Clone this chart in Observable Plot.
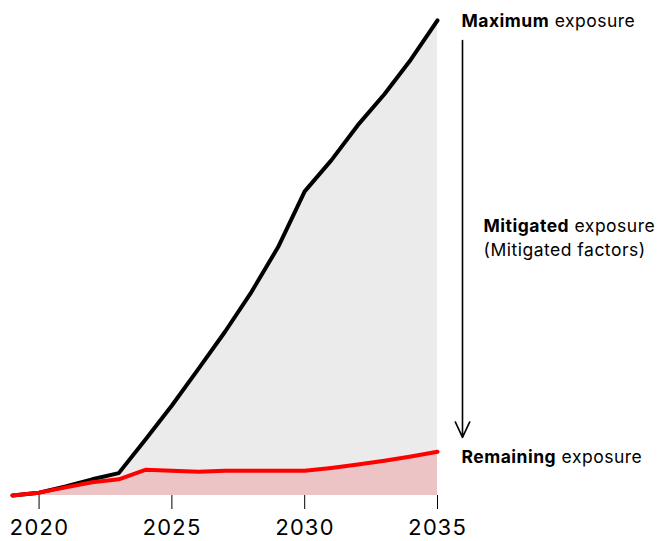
<!DOCTYPE html>
<html>
<head>
<meta charset="utf-8">
<script src="https://cdn.jsdelivr.net/npm/d3@7"></script>
<script src="https://cdn.jsdelivr.net/npm/@observablehq/plot@0.6"></script>
<style>
  body { margin: 0; background: #fff; }
  svg { font-family: Inter, "Liberation Sans", sans-serif; }
  g.lbl text { letter-spacing: 0.5px; }
  g.xax text { letter-spacing: 0.6px; }
</style>
</head>
<body>
<div id="chart"></div>
<script>
const years = [2019,2020,2021,2022,2023,2024,2025,2026,2027,2028,2029,2030,2031,2032,2033,2034,2035];
const maximum = [0,0.6,1.9,3.4,4.7,11.7,18.9,26.6,34.4,42.8,52.2,63.9,70.4,77.8,84.3,91.6,99.8];
const remaining = [0,0.6,1.7,2.8,3.4,5.4,5.2,5.0,5.2,5.2,5.2,5.2,5.8,6.5,7.3,8.2,9.2];
const xTicks = [2020,2025,2030,2035];
const labels = [
  {bold: "Maximum", rest: " exposure", y: 99.6, dx: 24},
  {bold: "Mitigated", rest: " exposure", y: 56.6, dx: 46},
  {bold: "", rest: "(Mitigated factors)", y: 51.4, dx: 46},
  {bold: "Remaining", rest: " exposure", y: 8.0, dx: 24}
];
const arrowFrom = 95.6, arrowTo = 12.2;

const data = years.map((year, i) => ({year, max: maximum[i], rem: remaining[i]}));

const chart = Plot.plot({
  width: 660,
  height: 541,
  marginLeft: 12,
  marginRight: 223,
  marginTop: 19,
  marginBottom: 46,
  x: {domain: [2019, 2035], label: null},
  y: {domain: [0, 100], axis: null},
  style: {fontFamily: "Inter, 'Liberation Sans', sans-serif", background: "#fff"},
  marks: [
    Plot.areaY(data, {x: "year", y1: "rem", y2: "max", fill: "#ebebeb"}),
    Plot.areaY(data, {x: "year", y1: 0, y2: "rem", fill: "#ecc4c6"}),
    Plot.line(data, {x: "year", y: "max", stroke: "#000", strokeWidth: 4}),
    Plot.line(data, {x: "year", y: "rem", stroke: "#ff0000", strokeWidth: 4}),
    Plot.axisX({ticks: xTicks, tickFormat: d => String(d), tickSize: 14, tickPadding: 10, fontSize: 22, stroke: "#000", label: null, className: "xax"}),
    Plot.arrow([0], {x1: () => 2035, x2: () => 2035, y1: () => arrowFrom, y2: () => arrowTo, dx: 25, stroke: "#000", strokeWidth: 1.6, headLength: 16, headAngle: 50}),
    ...labels.map(l => Plot.text([l], {x: () => 2035, y: "y", dx: l.dx, text: d => d.bold + d.rest, textAnchor: "start", fontSize: 17.5, fill: "#000", className: "lbl"}))
  ]
});

// style first word bold
d3.select(chart).selectAll("g.lbl text").each(function() {
  const el = d3.select(this);
  const full = el.text();
  const lab = labels.find(l => (l.bold + l.rest) === full);
  if (lab && lab.bold) {
    el.text(null);
    el.append("tspan").attr("font-weight", "bold").text(lab.bold);
    el.append("tspan").text(lab.rest);
  }
});

document.getElementById("chart").appendChild(chart);
</script>
</body>
</html>
